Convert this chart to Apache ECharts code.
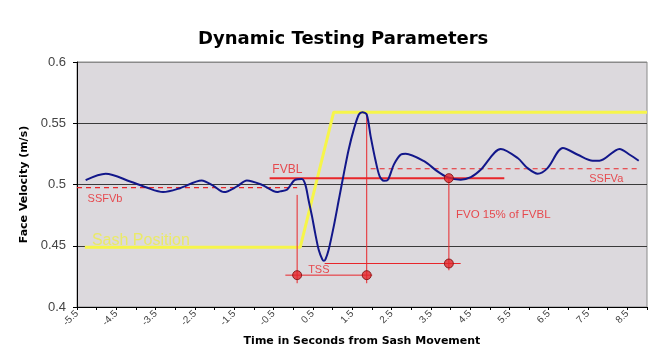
<!DOCTYPE html>
<html>
<head>
<meta charset="utf-8">
<script src="https://cdn.jsdelivr.net/npm/echarts@6/dist/echarts.min.js"></script>
<style>
  html, body { margin: 0; padding: 0; background: #ffffff; }
  #chart { width: 654px; height: 353px; }
</style>
</head>
<body>
<div id="chart"></div>
<script>
// Labelled ticks on the time axis (seconds from sash movement)
const timeTicks = [-5.5, -4.5, -3.5, -2.5, -1.5, -0.5, 0.5, 1.5, 2.5, 3.5, 4.5, 5.5, 6.5, 7.5, 8.5];

// Measured face velocity (m/s) against time (s)
const velTimes = [-5.28, -4.77, -4.15, -3.73, -3.31, -2.88, -2.33, -2.03, -1.76, -1.43, -1.18, -0.80, -0.41, -0.33, -0.16,
  0.05, 0.22, 0.31, 0.39, 0.48, 0.56, 0.65, 0.74, 0.78, 0.82, 0.90, 1.03, 1.16, 1.29, 1.41, 1.54, 1.67, 1.76, 1.87,
  1.97, 2.09, 2.20, 2.31, 2.41, 2.56, 2.73, 2.86, 3.33, 3.67, 3.92,
  4.26, 4.52, 4.77, 5.28, 5.71, 5.96, 6.22, 6.47, 6.86, 7.24, 7.62, 7.79, 8.30, 8.56, 8.79];
const velValues = [0.5036, 0.5088, 0.5025, 0.4975, 0.4938, 0.4970, 0.5033, 0.4989, 0.4938, 0.4984, 0.5033, 0.4998, 0.4938, 0.4944, 0.4957,
  0.5039, 0.5044, 0.4997, 0.4874, 0.4738, 0.4601, 0.4465, 0.4389, 0.4377, 0.4389, 0.4465, 0.4656, 0.4875, 0.5093, 0.5284, 0.5448, 0.5571, 0.5590, 0.5571,
  0.5393, 0.5202, 0.5066, 0.5030, 0.5039, 0.5162, 0.5243, 0.5252, 0.5190, 0.5107, 0.5060,
  0.5039, 0.5060, 0.5120, 0.5290, 0.5216, 0.5134, 0.5088, 0.5134, 0.5298, 0.5243, 0.5194, 0.5194, 0.5290, 0.5243, 0.5194];

// Sash position trace (plotted on the velocity scale)
const sashTimes = [-5.30, 0.18, 1.03, 9.0];
const sashValues = [0.4488, 0.4488, 0.5590, 0.5590];

// Steady-state and baseline levels with their time spans
const ssfvbLevel = 0.4975, ssfvbSpan = [-5.5, 0.10];
const ssfvaLevel = 0.5129, ssfvaSpan = [1.97, 8.75];
const fvblLevel = 0.5052, fvblSpan = [-0.60, 5.37];

// Time to steady state (TSS) markers
const tssStart = 0.10, tssEnd = 1.87, tssLevel = 0.426;
const tssSpan = [-0.20, 2.01];
const tssStartRise = [0.4194, 0.4915];
const tssEndRise = [0.4194, 0.5580];

// FVO (15% of FVBL) marker
const fvoTime = 3.96, fvoLevel = 0.4355;
const fvoSpan = [0.80, 4.26];
const fvoRise = [0.4300, fvblLevel];

const RED = '#e8262a';
const SANS = 'Liberation Sans, Arial, sans-serif';
const WIDE_BOLD = 'DejaVu Sans, Verdana, sans-serif';

function pairs(xs, ys) { return xs.map((x, i) => [x, ys[i]]); }
function hLine(span, level) { return [[span[0], level], [span[1], level]]; }
function vLine(t, range) { return [[t, range[0]], [t, range[1]]]; }

function redLine(name, data, width, type) {
  return {
    name: name, type: 'line', data: data, showSymbol: false, silent: true,
    lineStyle: { color: RED, width: width, type: type || 'solid' }, z: 3
  };
}

function textMark(name, t, v, text, color, size) {
  return {
    name: name, type: 'scatter', data: [[t, v]], symbolSize: 0, silent: true, z: 6,
    label: {
      show: true, position: 'inside', align: 'left', verticalAlign: 'middle',
      formatter: text, color: color, fontSize: size, fontFamily: SANS
    }
  };
}

const chart = echarts.init(document.getElementById('chart'), null, { renderer: 'canvas' });

chart.setOption({
  animation: false,
  backgroundColor: '#ffffff',
  title: {
    text: 'Dynamic Testing Parameters',
    left: 193, top: 25,
    textStyle: { fontSize: 18, fontWeight: 'bold', color: '#000', fontFamily: WIDE_BOLD }
  },
  grid: {
    left: 77, right: 7, top: 62, bottom: 46,
    show: true, backgroundColor: '#dcd9dd', borderColor: '#8a8a8a', borderWidth: 1
  },
  xAxis: {
    type: 'value', min: -5.5, max: 9, interval: 0.5,
    name: 'Time in Seconds from Sash Movement',
    nameLocation: 'middle', nameGap: 29,
    nameTextStyle: { fontSize: 11, fontWeight: 'bold', color: '#000', fontFamily: WIDE_BOLD },
    axisLine: { show: true, onZero: false, lineStyle: { color: '#000', width: 1 } },
    axisTick: { show: true, length: 3, lineStyle: { color: '#000' } },
    splitLine: { show: false },
    axisLabel: {
      rotate: 45, fontSize: 10, color: '#444', margin: 5,
      fontFamily: SANS,
      showMinLabel: true, showMaxLabel: true,
      formatter: v => timeTicks.some(t => Math.abs(t - v) < 1e-6) ? String(v) : ''
    }
  },
  yAxis: {
    type: 'value', min: 0.4, max: 0.6, interval: 0.05,
    name: 'Face Velocity (m/s)',
    nameLocation: 'middle', nameGap: 41,
    nameTextStyle: { fontSize: 11, fontWeight: 'bold', color: '#000', fontFamily: WIDE_BOLD },
    axisLine: { show: true, onZero: false, lineStyle: { color: '#000', width: 1 } },
    axisTick: { show: true, length: 4, lineStyle: { color: '#000' } },
    splitLine: { show: true, lineStyle: { color: ['#000', '#3a3a3a', '#3a3a3a', '#3a3a3a', '#8a8a8a'], width: 1 } },
    axisLabel: {
      fontSize: 13, color: '#444', margin: 11,
      fontFamily: SANS
    }
  },
  series: [
    {
      name: 'Sash Position', type: 'line', data: pairs(sashTimes, sashValues),
      showSymbol: false, silent: true, z: 2,
      lineStyle: { color: '#f6f54a', width: 3 }
    },
    redLine('SSFVb', hLine(ssfvbSpan, ssfvbLevel), 1.3, [5, 4]),
    redLine('SSFVa', hLine(ssfvaSpan, ssfvaLevel), 1.1, [5, 4]),
    redLine('TSS start', vLine(tssStart, tssStartRise), 1),
    redLine('TSS end', vLine(tssEnd, tssEndRise), 1),
    redLine('TSS span', hLine(tssSpan, tssLevel), 1),
    redLine('FVO drop', vLine(fvoTime, fvoRise), 1),
    redLine('FVO span', hLine(fvoSpan, fvoLevel), 1),
    {
      name: 'Face Velocity', type: 'line', data: pairs(velTimes, velValues),
      smooth: 0.3, showSymbol: false, silent: true, z: 4,
      lineStyle: { color: '#12178a', width: 2 }
    },
    redLine('FVBL', hLine(fvblSpan, fvblLevel), 2),
    {
      name: 'markers', type: 'scatter', silent: true, z: 5,
      data: [[tssStart, tssLevel], [tssEnd, tssLevel], [fvoTime, fvoLevel], [fvoTime, fvblLevel]],
      symbol: 'circle', symbolSize: 9,
      itemStyle: { color: '#e3262b', borderColor: '#7a0a0a', borderWidth: 1 }
    },
    textMark('lbl-fvbl', -0.53, 0.5120, 'FVBL', RED, 12),
    textMark('lbl-ssfvb', -5.23, 0.4880, 'SSFVb', RED, 11),
    textMark('lbl-ssfva', 7.53, 0.5047, 'SSFVa', RED, 11),
    textMark('lbl-tss', 0.38, 0.4301, 'TSS', RED, 11),
    textMark('lbl-fvo', 4.14, 0.4752, 'FVO 15% of FVBL', RED, 11.5),
    textMark('lbl-sash', -5.12, 0.4540, 'Sash Position', '#eeee4a', 16)
  ]
});
</script>
</body>
</html>
